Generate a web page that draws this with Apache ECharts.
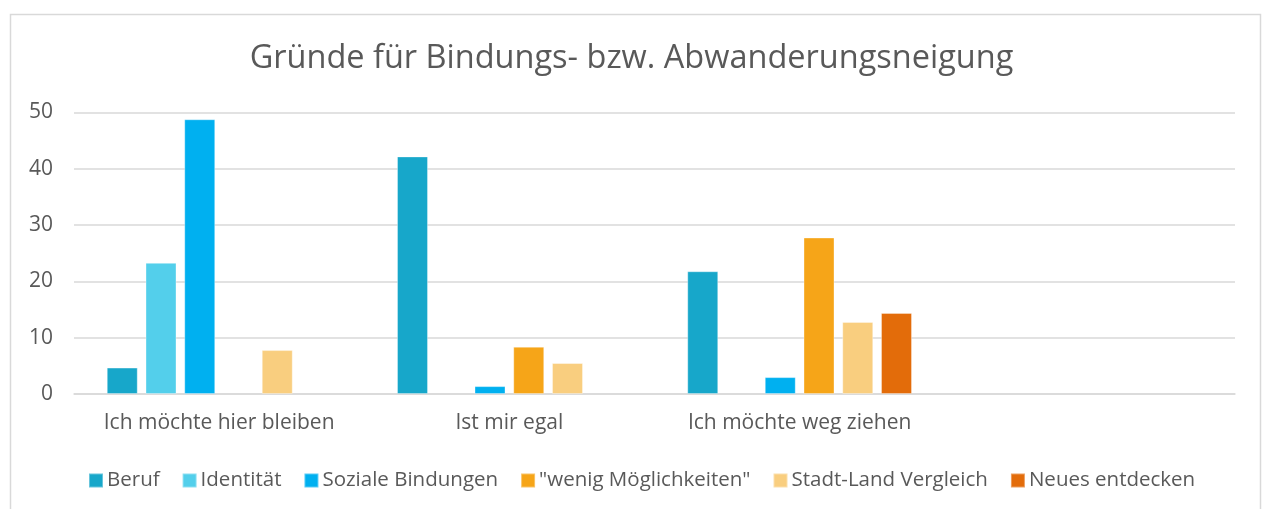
<!DOCTYPE html>
<html>
<head>
<meta charset="utf-8">
<script src="https://cdn.jsdelivr.net/npm/echarts@6/dist/echarts.min.js"></script>
<style>
  html, body { margin: 0; padding: 0; background: #fff; }
  #chart { width: 1263px; height: 509px; }
</style>
</head>
<body>
<div id="chart"></div>
<script>
// Answer groups on the x axis (the last slot stays empty)
const categories = ['Ich möchte hier bleiben', 'Ist mir egal', 'Ich möchte weg ziehen', ''];

// Reasons, one series each
const beruf = [4.7, 42.2, 21.8, null];
const identitaet = [23.3, null, null, null];
const sozialeBindungen = [48.8, 1.4, 3.0, null];
const wenigMoeglichkeiten = [null, 8.4, 27.8, null];
const stadtLand = [7.8, 5.5, 12.8, null];
const neuesEntdecken = [null, null, 14.4, null];

const seriesNames = ['Beruf', 'Identität', 'Soziale Bindungen', '"wenig Möglichkeiten"', 'Stadt-Land Vergleich', 'Neues entdecken'];
const seriesData = [beruf, identitaet, sozialeBindungen, wenigMoeglichkeiten, stadtLand, neuesEntdecken];
const colors = ['#17A7CA', '#53CFEB', '#00B0F0', '#F6A518', '#F9CE7F', '#E36C0A'];

const yTicks = { min: 0, max: 50, interval: 10 };

const font = '"Open Sans", "Noto Sans", sans-serif';
const textColor = '#595959';

const chart = echarts.init(document.getElementById('chart'), null, { renderer: 'canvas' });

chart.setOption({
  animation: false,
  backgroundColor: '#fff',
  title: {
    text: 'Gründe für Bindungs- bzw. Abwanderungsneigung',
    left: 'center',
    top: 37,
    textStyle: { fontFamily: font, fontSize: 32.5, fontWeight: 'normal', color: textColor }
  },
  legend: {
    data: seriesNames,
    left: 83,
    top: 465,
    itemWidth: 14,
    itemHeight: 14,
    itemGap: 22,
    icon: 'rect',
    textStyle: { fontFamily: font, fontSize: 20.5, color: textColor, padding: [0, 0, 0, -1] }
  },
  grid: { left: 74, right: 28, top: 112.5, bottom: 115, containLabel: false },
  xAxis: {
    type: 'category',
    data: categories,
    axisLine: { show: true, lineStyle: { color: '#D9D9D9', width: 1.5 } },
    axisTick: { show: false },
    axisLabel: { interval: 0, fontFamily: font, fontSize: 21, color: textColor, margin: 19 }
  },
  yAxis: {
    type: 'value',
    min: yTicks.min,
    max: yTicks.max,
    interval: yTicks.interval,
    axisLine: { show: false },
    axisTick: { show: false },
    splitLine: { lineStyle: { color: '#D9D9D9', width: 1.5 } },
    axisLabel: { fontFamily: font, fontSize: 21, color: textColor, margin: 21 }
  },
  graphic: [{
    type: 'rect',
    shape: { x: 10.5, y: 14.5, width: 1250, height: 520 },
    style: { fill: 'none', stroke: '#D9D9D9', lineWidth: 1.5 },
    silent: true,
    z: -1
  }],
  series: seriesNames.map((name, i) => ({
    name,
    type: 'bar',
    data: seriesData[i],
    barWidth: 31,
    barGap: '25%',
    itemStyle: { color: colors[i], borderColor: 'rgba(255,255,255,0.35)', borderWidth: 1 }
  }))
});
</script>
</body>
</html>
